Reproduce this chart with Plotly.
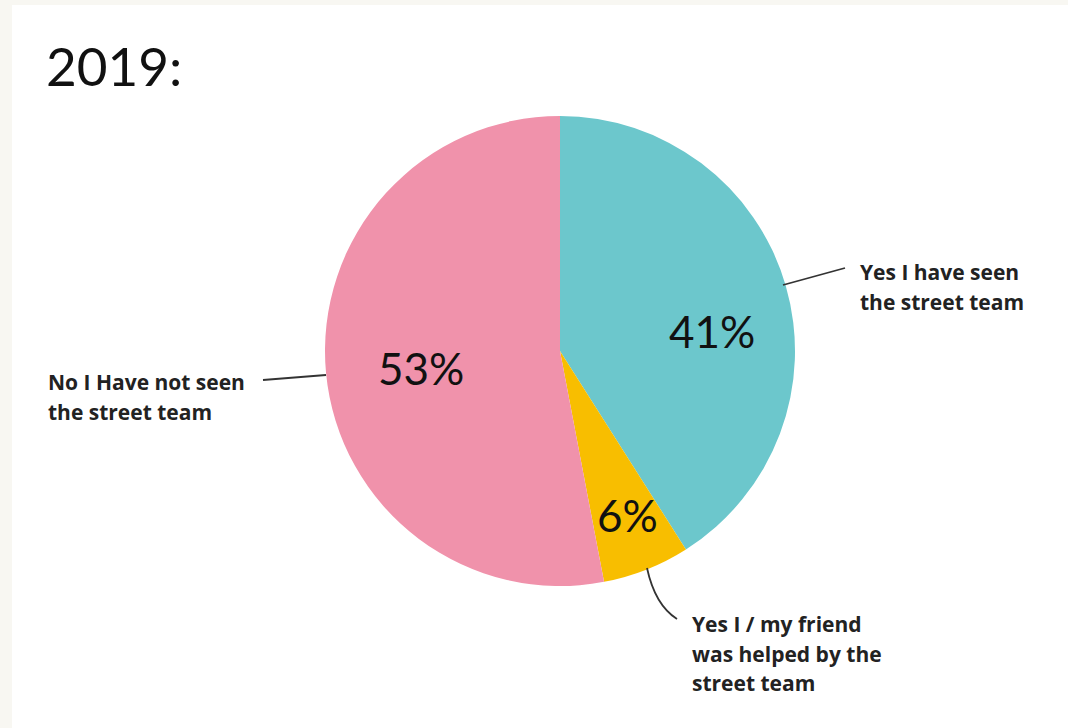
import plotly.graph_objects as go

labels = ["Yes I have seen the street team",
          "Yes I / my friend was helped by the street team",
          "No I Have not seen the street team"]
values = [41, 6, 53]
colors = ["#6cc7cc", "#f8be00", "#f092ab"]
title_text = "2019:"
label_lines = [["Yes I have seen", "the street team"],
               ["Yes I / my friend", "was helped by the", "street team"],
               ["No I Have not seen", "the street team"]]

W, H = 1068, 728
cx, cy, r = 560, 351, 235

def px(x):
    return x / W

def py(y):
    return 1 - y / H

fig = go.Figure(go.Pie(
    labels=labels, values=values, sort=False, direction="clockwise", rotation=0,
    marker=dict(colors=colors, line=dict(width=0)),
    textinfo="none",
    hoverinfo="label+percent", showlegend=False,
    domain=dict(x=[px(cx - r), px(cx + r)], y=[py(cy + r), py(cy - r)]),
))

pct_font = dict(family="Lato", size=44, color="#111111")
pct_pos = [(712, 331), (627, 515), (421, 368)]
for v, (x, y) in zip(values, pct_pos):
    fig.add_annotation(x=px(x), y=py(y), xref="paper", yref="paper", text=f"{v}%",
                       showarrow=False, xanchor="center", yanchor="middle", font=pct_font)

label_font = dict(family="Open Sans", size=21, color="#222222", weight=700)
label_anchor = [(858, 272), (690, 624), (46, 382)]
line_gap = 29.5
for lines, (x0, y0) in zip(label_lines, label_anchor):
    for i, t in enumerate(lines):
        fig.add_annotation(x=px(x0), y=py(y0 + i * line_gap), xref="paper", yref="paper",
                           text=t, showarrow=False, xanchor="left", yanchor="middle",
                           align="left", font=label_font)

line_style = dict(color="#333333", width=1.8)
fig.add_shape(type="line", xref="paper", yref="paper",
              x0=px(783), y0=py(285), x1=px(845), y1=py(268), line=line_style)
fig.add_shape(type="line", xref="paper", yref="paper",
              x0=px(263), y0=py(380), x1=px(326), y1=py(375), line=line_style)
fig.add_shape(type="path", xref="paper", yref="paper",
              path=f"M {px(647)} {py(568)} Q {px(655)} {py(605)} {px(677)} {py(619)}",
              line=line_style)

# white panel over cream page
fig.add_shape(type="rect", xref="paper", yref="paper", layer="below",
              x0=px(12), y0=0, x1=1, y1=py(5), fillcolor="white", line=dict(width=0))

fig.add_annotation(x=px(44), y=py(65), xref="paper", yref="paper", text=title_text,
                   showarrow=False, xanchor="left", yanchor="middle",
                   font=dict(family="Lato", size=53, color="#111111"))

fig.update_layout(width=W, height=H, margin=dict(l=0, r=0, t=0, b=0),
                  paper_bgcolor="#f8f7f2", plot_bgcolor="white")

fig.write_html("out.html", config={"displayModeBar": False},
               post_script="document.body.style.margin='0';document.body.style.background='#ffffff';")
